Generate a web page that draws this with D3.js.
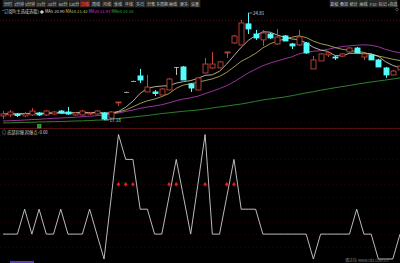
<!DOCTYPE html>
<html>
<head>
<meta charset="utf-8">
<script src="https://cdnjs.cloudflare.com/ajax/libs/d3/7.8.5/d3.min.js"></script>
<style>
    body { margin: 0; background: #000; }
    svg { display: block; font-family: "Noto Sans CJK SC", "Noto Sans", sans-serif; }
</style>
</head>
<body>
<script>
var width = 400, height = 263;

// daily bars
var opens  = [17.47,17.54,17.57,17.47,17.54,17.68,17.54,17.61,17.82,17.75,17.54,17.54,17.61,17.61,17.68,17.32,
              18.43,19.18,19.96,20.32,19.18,19.18,18.96,19.32,20.96,20.96,19.75,19.32,20.53,20.89,20.89,21.96,
              22.67,22.53,24.03,23.31,22.89,23.31,22.60,23.17,22.60,22.53,22.67,20.82,21.39,21.82,21.67,21.74,
              22.03,22.31,21.67,21.82,21.46,20.89,20.39,20.75];
var highs  = [17.82,17.89,17.68,17.75,18.04,17.75,17.89,17.82,17.89,18.11,17.75,17.89,17.75,17.89,17.75,17.82,
              18.46,19.20,19.98,20.82,20.39,19.32,19.46,20.18,20.96,21.03,19.82,20.25,21.60,22.03,21.39,22.03,
              23.24,24.31,24.81,23.60,23.60,23.38,23.67,23.24,22.67,23.60,22.74,21.74,21.96,22.10,21.74,21.96,
              22.39,22.39,21.89,21.89,21.53,20.96,20.75,21.17];
var lows   = [17.25,17.39,17.39,17.39,17.47,17.47,17.47,17.54,17.61,17.54,17.47,17.47,17.54,17.54,17.18,17.25,
              18.18,19.15,19.94,19.82,19.18,18.89,18.96,19.32,20.39,20.03,19.18,19.32,20.53,20.82,20.89,21.60,
              22.60,22.53,23.31,22.89,22.46,22.96,22.53,22.81,22.24,22.46,21.89,20.82,21.39,21.67,21.46,21.67,
              21.96,21.96,21.46,21.46,20.96,20.18,20.39,20.75];
var closes = [17.61,17.75,17.50,17.61,17.82,17.54,17.82,17.75,17.68,17.61,17.68,17.82,17.68,17.82,17.25,17.75,
              18.46,19.18,19.96,20.03,19.53,19.07,19.39,20.10,20.96,20.03,19.46,20.18,21.17,21.17,21.32,22.03,
              23.17,24.10,23.67,23.03,23.38,23.03,23.10,22.81,22.46,23.10,21.96,21.46,21.89,21.96,21.60,21.89,
              22.31,21.96,21.89,21.46,20.96,20.39,20.67,21.03];

var ma5  = [17.61,17.62,17.61,17.64,17.66,17.65,17.66,17.71,17.72,17.68,17.71,17.71,17.69,17.72,17.65,17.67,
            17.79,18.09,18.52,19.08,19.43,19.55,19.60,19.63,19.81,19.91,19.99,20.15,20.36,20.40,20.66,21.17,
            21.77,22.36,22.86,23.20,23.47,23.44,23.24,23.07,22.96,22.90,22.69,22.36,22.17,22.07,21.77,21.76,
            21.93,21.94,21.93,21.90,21.72,21.33,21.07,20.90];
var ma10 = [17.60,17.61,17.61,17.62,17.63,17.64,17.65,17.66,17.67,17.67,17.68,17.68,17.70,17.72,17.67,17.69,
            17.75,17.89,18.12,18.36,18.55,18.67,18.85,19.07,19.44,19.67,19.77,19.87,19.99,20.11,20.29,20.58,
            20.96,21.36,21.63,21.93,22.32,22.61,22.80,22.96,23.08,23.18,23.06,22.80,22.62,22.51,22.34,22.22,
            22.14,22.06,22.00,21.84,21.74,21.63,21.51,21.42];
var ma20 = [17.11,17.13,17.15,17.18,17.21,17.23,17.27,17.30,17.32,17.35,17.38,17.42,17.45,17.49,17.54,17.59,
            17.68,17.79,17.89,18.01,18.11,18.18,18.27,18.40,18.56,18.68,18.76,18.88,19.06,19.23,19.42,19.63,
            19.90,20.22,20.54,20.80,21.05,21.24,21.39,21.54,21.68,21.89,22.01,22.08,22.12,22.22,22.33,22.41,
            22.47,22.51,22.54,22.51,22.40,22.21,22.07,21.97];
var ma60 = [16.97,16.98,17.00,17.01,17.02,17.04,17.05,17.06,17.07,17.09,17.11,17.12,17.14,17.17,17.18,17.23,
            17.29,17.34,17.39,17.45,17.50,17.57,17.64,17.69,17.75,17.80,17.85,17.89,17.96,18.04,18.11,18.18,
            18.25,18.32,18.41,18.51,18.61,18.68,18.75,18.82,18.91,19.01,19.11,19.20,19.30,19.39,19.48,19.56,
            19.64,19.73,19.81,19.89,19.96,20.03,20.10,20.18];

// lower indicator
var signal = [0,0,0,1,0,1,0,0,1,0, 0,0,1,0,-1,1.5,4,3,3,1, 1,0,0,1.5,3,1.5,0,2,4,0,
              0,1.5,3,1,1,1,0,0,0,0, 0,0,0,-1,0,0,0,0,0,1, 0,0,-1,-1,-1,0];
var dotBars = [16,17,18,23,24,28,31,32];
var dotLevel = 2;

var leftButtons = ["分时","1分钟","5分钟","15分","30分","60分","120分","日线","周线","月线","季线","年线","多日","分笔","多周期","画线","更多","设置"];
var rightButtons = ["复权","叠加","统计","画线","F10","标记","+自选"];
var maNames = ["MA5","MA10","MA20","MA60"];
var maColors = ["#dcdcc8","#c8c060","#c040c0","#3aa03a"];

var svg = d3.select("body").append("svg")
    .attr("width", width)
    .attr("height", height)
    .style("background", "#000");

var x = d3.scaleLinear().domain([0, closes.length - 1]).range([3, 400]);
var y = d3.scaleLinear().domain([16.61, 25.02]).range([128, 10]);
var ys = d3.scaleLinear().domain([-1, 4]).range([259, 134.5]);

// toolbar
var tb = svg.append("g").attr("class", "toolbar");
tb.selectAll("rect.l").data(leftButtons).enter().append("rect")
    .attr("x", (d, i) => 3 + i * 11).attr("y", 0.5)
    .attr("width", 10).attr("height", 6.5)
    .attr("fill", (d, i) => i == 7 ? "#6a1818" : "#262626")
    .attr("stroke", "#3c3c3c").attr("stroke-width", 0.5);
tb.selectAll("text.l").data(leftButtons).enter().append("text")
    .attr("x", (d, i) => 8 + i * 11).attr("y", 5.6)
    .attr("text-anchor", "middle").attr("font-size", 4)
    .attr("fill", (d, i) => i == 7 ? "#ff6060" : "#c8c8c8")
    .text(d => d);
tb.selectAll("rect.r").data(rightButtons).enter().append("rect")
    .attr("x", (d, i) => 330 + i * 9.7).attr("y", 0.5)
    .attr("width", 8.7).attr("height", 6.5)
    .attr("fill", "#262626").attr("stroke", "#3c3c3c").attr("stroke-width", 0.5);
tb.selectAll("text.r").data(rightButtons).enter().append("text")
    .attr("x", (d, i) => 334.3 + i * 9.7).attr("y", 5.6)
    .attr("text-anchor", "middle").attr("font-size", 4)
    .attr("fill", "#c8c8c8")
    .text(d => d);
svg.append("circle").attr("cx", 397).attr("cy", 9.5).attr("r", 1.3)
    .attr("fill", "none").attr("stroke", "#777").attr("stroke-width", 0.6);

// grid / panel lines
svg.append("line").attr("x1", 0).attr("x2", width).attr("y1", 20.5).attr("y2", 20.5)
    .attr("stroke", "#4a1010").attr("stroke-dasharray", "1,2");
svg.append("line").attr("x1", 0).attr("x2", width).attr("y1", 128.5).attr("y2", 128.5)
    .attr("stroke", "#501010");
svg.append("g").selectAll("line")
    .data(d3.range(-0.5, 4.6, 0.5))
    .enter().append("line")
    .attr("x1", 0).attr("x2", width)
    .attr("y1", d => Math.round(ys(d)) + 0.5).attr("y2", d => Math.round(ys(d)) + 0.5)
    .attr("stroke", "#240808").attr("stroke-dasharray", "1,3");

// header line
var last = closes.length - 1;
var head = svg.append("text").attr("x", 2).attr("y", 12.5).attr("font-size", 4.2);
head.append("tspan").attr("fill", "#d0d0d0").text("*订阅B(主选成选股) ◆ ");
[ma5, ma10, ma20, ma60].forEach(function (m, k) {
    head.append("tspan").attr("fill", maColors[k])
        .text(maNames[k] + " " + m[last].toFixed(2) + " ");
});

// moving averages
[ma60, ma20, ma10, ma5].forEach(function (m, k) {
    svg.append("path")
        .datum(m)
        .attr("fill", "none")
        .attr("stroke", maColors[3 - k])
        .attr("stroke-width", 0.8)
        .attr("d", d3.line().x((d, i) => x(i)).y(d => y(d)));
});

// candles
var bars = d3.range(closes.length);
function candleColor(i) {
    if (closes[i] > opens[i]) return "#c4443c";
    if (closes[i] < opens[i]) return "#54fcfc";
    return "#bdbdbd";
}
var cg = svg.append("g").attr("class", "candles");
cg.selectAll("line").data(bars).enter().append("line")
    .attr("x1", i => Math.round(x(i)) + 0.5).attr("x2", i => Math.round(x(i)) + 0.5)
    .attr("y1", i => y(highs[i])).attr("y2", i => y(lows[i]))
    .attr("stroke", candleColor).attr("stroke-width", 1);
cg.selectAll("rect").data(bars).enter().append("rect")
    .attr("x", i => Math.round(x(i)) - 2)
    .attr("width", 5)
    .attr("y", i => Math.min(y(opens[i]), y(closes[i])))
    .attr("height", i => Math.max(0.8, Math.abs(y(opens[i]) - y(closes[i]))))
    .attr("fill", i => closes[i] < opens[i] ? "#54fcfc" : (closes[i] > opens[i] ? "#000" : "#bdbdbd"))
    .attr("stroke", candleColor)
    .attr("stroke-width", i => closes[i] == opens[i] ? 0 : 0.9);

// max / min labels
var hi = d3.maxIndex(highs), lo = d3.minIndex(lows);
svg.append("line").attr("x1", x(hi)).attr("x2", x(hi) + 4)
    .attr("y1", y(highs[hi])).attr("y2", y(highs[hi])).attr("stroke", "#ccc").attr("stroke-width", 0.6);
svg.append("text").attr("x", x(hi) + 4.5).attr("y", y(highs[hi]) + 2)
    .attr("font-size", 4.5).attr("fill", "#ddd").text(highs[hi].toFixed(2));
svg.append("line").attr("x1", x(lo)).attr("x2", x(lo) + 5)
    .attr("y1", y(lows[lo])).attr("y2", y(lows[lo])).attr("stroke", "#ccc").attr("stroke-width", 0.6);
svg.append("text").attr("x", x(lo) + 5.5).attr("y", y(lows[lo]) + 2)
    .attr("font-size", 4.5).attr("fill", "#ddd").text(lows[lo].toFixed(2));

// divider marks
svg.append("rect").attr("x", 37.5).attr("y", 124.5).attr("width", 3.5).attr("height", 3.5)
    .attr("fill", "#2c8a2c").attr("stroke", "#6c6").attr("stroke-width", 0.5);

// lower panel
svg.append("text").attr("x", 2).attr("y", 133.5).attr("font-size", 4.2)
    .attr("fill", "#d0d0d0").text("◎ 底部起爆 起爆点: 0.00");

svg.append("path")
    .datum(signal)
    .attr("fill", "none")
    .attr("stroke", "#cfcfcf")
    .attr("stroke-width", 0.9)
    .attr("d", d3.line().x((d, i) => x(i)).y(d => ys(d)));

var dg = svg.append("g");
dg.selectAll("circle").data(dotBars).enter().append("circle")
    .attr("cx", i => x(i)).attr("cy", ys(dotLevel)).attr("r", 1.5)
    .attr("fill", "#e02020");
dg.selectAll("line").data(dotBars).enter().append("line")
    .attr("x1", i => x(i)).attr("x2", i => x(i))
    .attr("y1", ys(dotLevel) - 2.5).attr("y2", ys(dotLevel) + 2.5)
    .attr("stroke", "#e02020").attr("stroke-width", 0.6);

svg.append("rect").attr("x", 10).attr("y", 261).attr("width", 24).attr("height", 2)
    .attr("fill", "#5a3cb0");
svg.append("text").attr("x", 345).attr("y", 261.5).attr("font-size", 4)
    .attr("fill", "#7a7a7a").text("通达信 www.tdx.com.cn");
</script>
</body>
</html>
